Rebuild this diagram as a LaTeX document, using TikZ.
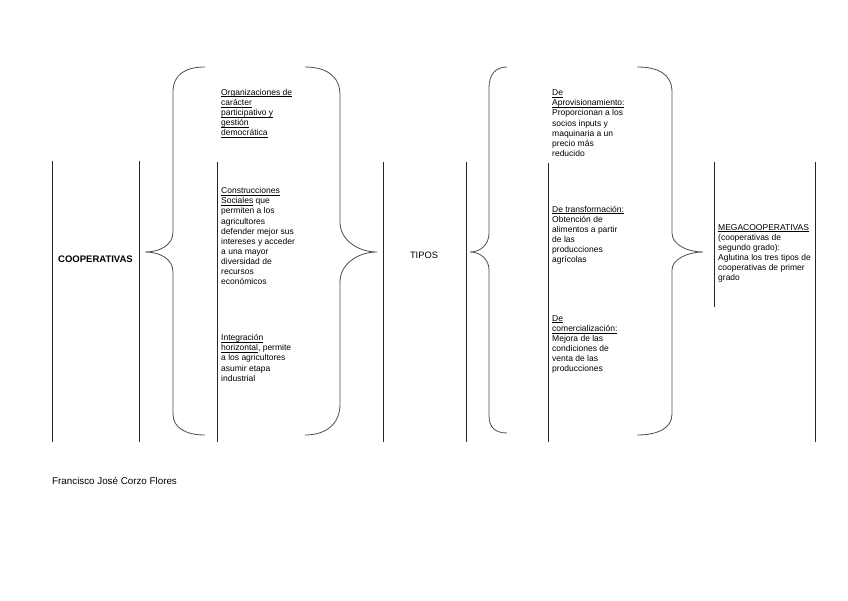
\documentclass[tikz,border=0pt]{standalone}
\usepackage{fontspec}
\setmainfont{Liberation Sans}
\newcommand\myul[1]{\underline{\smash{#1}}}
\begin{document}
\begin{tikzpicture}[x=1pt,y=-1pt,
  txt/.style={anchor=north west,inner sep=0pt,align=left,font=\fontsize{8.5}{10.1}\selectfont},
  lbl/.style={anchor=base,inner sep=0pt,font=\fontsize{9.3}{11}\selectfont},
  boxline/.style={line width=1pt,black!85},
  brace/.style={line width=0.8pt,black!70}]
\useasboundingbox (0,0) rectangle (848,600);
% box borders
\draw[boxline] (52,161) -- (52,442);
\draw[boxline] (139,161) -- (139,442);
\draw[boxline] (217,162) -- (217,442);
\draw[boxline] (383,162) -- (383,442);
\draw[boxline] (466,162) -- (466,442);
\draw[boxline] (548,163) -- (548,442);
\draw[boxline] (714,162) -- (714,307);
\draw[boxline] (815,162) -- (815,442);
% braces
\draw[brace] (205,67) .. controls (186,67) and (173,74) .. (173,92) -- (173,232)
  .. controls (173,245) and (160,252) .. (145,252)
  .. controls (160,252) and (173,259) .. (173,272) -- (173,414)
  .. controls (173,428) and (186,435) .. (205,435);
\draw[brace] (305,67) .. controls (326,67) and (340,76) .. (340,95) -- (340,222)
  .. controls (340,240) and (358,252) .. (377,252)
  .. controls (358,252) and (340,264) .. (340,282) -- (340,404)
  .. controls (340,424) and (326,435) .. (305,435);
\draw[brace] (507,67) .. controls (495,67) and (489,75) .. (489,88) -- (489,233)
  .. controls (489,245) and (480,252) .. (470,252)
  .. controls (480,252) and (489,259) .. (489,270) -- (489,416)
  .. controls (489,427) and (495,433) .. (507,433);
\draw[brace] (637,67) .. controls (658,67) and (672,74) .. (672,92) -- (672,233)
  .. controls (672,245) and (688,252) .. (703,252)
  .. controls (688,252) and (672,259) .. (672,270) -- (672,414)
  .. controls (672,428) and (658,435) .. (637,435);
% labels
\node[lbl,font=\fontsize{9.5}{11}\selectfont\bfseries] (coop) at (95.5,262) {COOPERATIVAS};
\node[lbl] (tipos) at (424,258) {TIPOS};
\node[txt] (org) at (221,95) {\myul{Organizaciones de}\\\myul{carácter}\\\myul{participativo y}\\\myul{gestión}\\\myul{democrática}};
\node[txt] (cons) at (221,193.5) {\myul{Construcciones}\\\myul{Sociales} que\\permiten a los\\agricultores\\defender mejor sus\\intereses y acceder\\a una mayor\\diversidad de\\recursos\\económicos};
\node[txt] (integ) at (221,340.5) {\myul{Integración}\\\myul{horizontal}, permite\\a los agricultores\\asumir etapa\\industrial};
\node[txt] (aprov) at (552,95.5) {\myul{De}\\\myul{Aprovisionamiento:}\\Proporcionan a los\\socios inputs y\\maquinaria a un\\precio más\\reducido};
\node[txt] (transf) at (552,212) {\myul{De transformación:}\\Obtención de\\alimentos a partir\\de las\\producciones\\agrícolas};
\node[txt] (comer) at (552,321) {\myul{De}\\\myul{comercialización:}\\Mejora de las\\condiciones de\\venta de las\\producciones};
\node[txt] (mega) at (718,230) {\myul{MEGACOOPERATIVAS}\\(cooperativas de\\segundo grado):\\Aglutina los tres tipos de\\cooperativas de primer\\grado};
\node[anchor=base west,inner sep=0pt,font=\fontsize{9.8}{12}\selectfont] (autor) at (52,484) {Francisco José Corzo Flores};
\end{tikzpicture}
\end{document}
